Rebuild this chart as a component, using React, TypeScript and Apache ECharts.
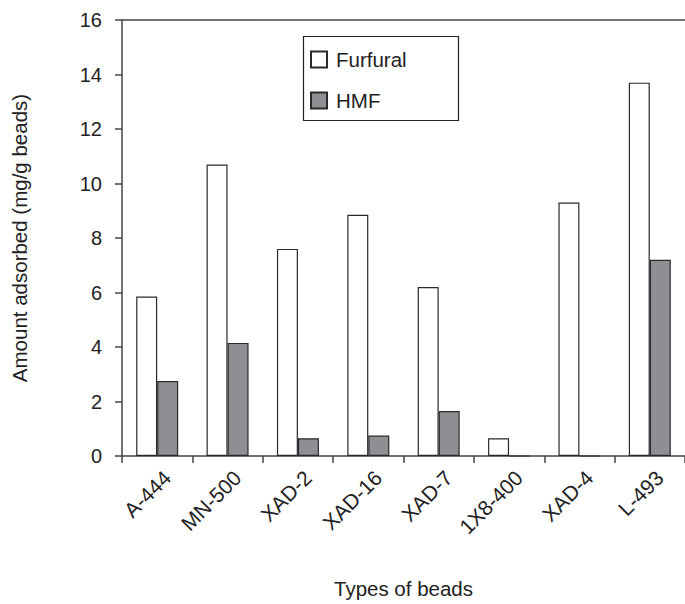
import React, { useEffect, useRef } from "react";
import * as echarts from "echarts";

const categories = ["A-444", "MN-500", "XAD-2", "XAD-16", "XAD-7", "1X8-400", "XAD-4", "L-493"];
const furfural = [5.85, 10.7, 7.6, 8.85, 6.2, 0.65, 9.3, 13.7];
const hmf = [2.75, 4.15, 0.65, 0.75, 1.65, 0, 0, 7.2];
const yTicks = { min: 0, max: 16, interval: 2 };

const FONT = "'Liberation Sans', Arial, Helvetica, sans-serif";
const TEXT = "#222";
const AXIS = "#444";

export default function App() {
  const ref = useRef<HTMLDivElement>(null);
  useEffect(() => {
    document.body.style.margin = "0";
    const chart = echarts.init(ref.current!, null, { renderer: "svg" });
    chart.setOption({
      animation: false,
      backgroundColor: "#fff",
      textStyle: { fontFamily: FONT, color: TEXT },
      grid: { left: 122, top: 20, width: 566, height: 440, containLabel: false },
      legend: {
        orient: "vertical",
        left: 310,
        top: 49,
        padding: 0,
        itemWidth: 16,
        itemHeight: 16,
        itemGap: 20,
        icon: "rect",
        textStyle: { fontFamily: FONT, fontSize: 20.5, color: TEXT, padding: [0, 0, 0, 4] },
        data: ["Furfural", "HMF"],
      },
      graphic: [
        {
          type: "rect",
          left: 301,
          top: 34,
          shape: { width: 155, height: 84 },
          style: { fill: "none", stroke: "#222", lineWidth: 1.2 },
          z: 10,
          silent: true,
        },
      ],
      xAxis: [
        {
          type: "category",
          data: categories,
          position: "bottom",
          axisLine: { show: true, lineStyle: { color: AXIS, width: 1.5 } },
          axisTick: { show: true, inside: false, length: 7, lineStyle: { color: AXIS, width: 1.5 } },
          axisLabel: {
            rotate: 45,
            fontSize: 21,
            color: TEXT,
            fontFamily: FONT,
            margin: 28,
            interval: 0,
            padding: [0, -14, 0, 0],
          },
          name: "Types of beads",
          nameLocation: "middle",
          nameGap: 122,
          nameTextStyle: { fontSize: 20.5, color: TEXT, fontFamily: FONT },
        },
        {
          type: "category",
          data: categories,
          position: "top",
          axisLine: { show: true, lineStyle: { color: AXIS, width: 1.5 } },
          axisTick: { show: false },
          axisLabel: { show: false },
        },
      ],
      yAxis: {
        type: "value",
        min: yTicks.min,
        max: yTicks.max,
        interval: yTicks.interval,
        axisLine: { show: true, lineStyle: { color: AXIS, width: 1.5 } },
        axisTick: { show: true, inside: false, length: 7, lineStyle: { color: AXIS, width: 1.5 } },
        splitLine: { show: false },
        axisLabel: { fontSize: 20, color: TEXT, fontFamily: FONT, margin: 20 },
        name: "Amount adsorbed (mg/g beads)",
        nameLocation: "middle",
        nameGap: 92,
        nameTextStyle: { fontSize: 20.5, color: TEXT, fontFamily: FONT },
      },
      series: [
        {
          name: "Furfural",
          type: "bar",
          data: furfural,
          barWidth: 21,
          barGap: "0%",
          itemStyle: { color: "#ffffff", borderColor: "#2a2a2a", borderWidth: 1.2 },
        },
        {
          name: "HMF",
          type: "bar",
          data: hmf,
          barWidth: 21,
          barGap: "0%",
          itemStyle: { color: "#8e8f93", borderColor: "#2a2a2a", borderWidth: 1.2 },
        },
      ],
    });
    return () => chart.dispose();
  }, []);
  return (
    <div
      ref={ref}
      style={{ position: "absolute", left: 0, top: 0, width: 685, height: 604 }}
    />
  );
}
